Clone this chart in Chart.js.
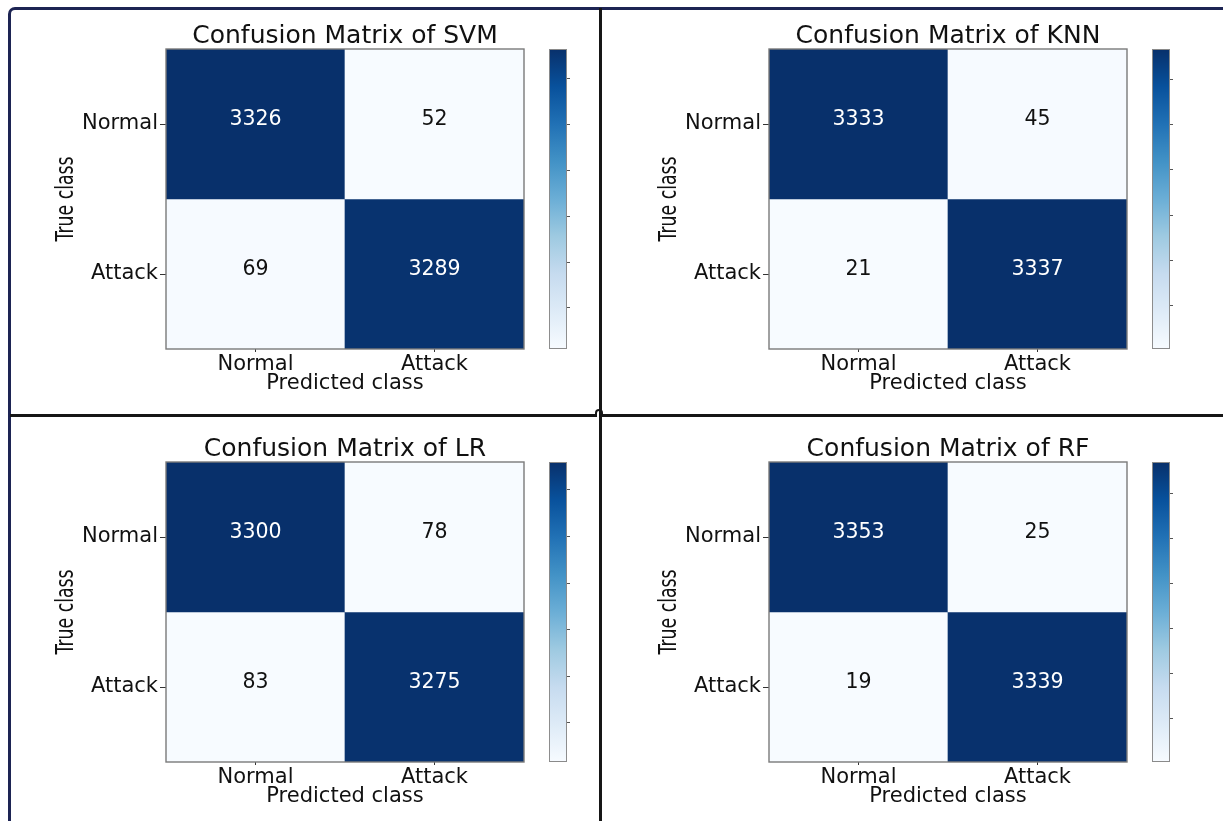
<!DOCTYPE html>
<html>
<head>
<meta charset="utf-8">
<script src="https://cdn.jsdelivr.net/npm/chart.js@4/dist/chart.umd.min.js"></script>
<style>
  html, body { margin: 0; padding: 0; background: #fff; }
  #stage { position: relative; width: 1223px; height: 821px; overflow: hidden; background: #fff; }
  #stage canvas { position: absolute; }
  .frame { position: absolute; left: 8px; top: 7px; width: 1240px; height: 840px;
           border-left: 3px solid #1d2453; border-top: 3px solid #1d2453;
           border-top-left-radius: 7px; box-sizing: border-box; }
  .vdiv { position: absolute; left: 599px; top: 8px; width: 3px; height: 820px; background: #161616; }
  .hdiv { position: absolute; left: 10px; top: 414px; width: 1220px; height: 3px; background: #161616; }
  .knot { position: absolute; left: 595px; top: 409px; width: 8px; height: 8px;
          border: 2px solid #161616; border-bottom: none; border-radius: 6px 6px 0 0; box-sizing: border-box; background: #fff; }
</style>
</head>
<body>
<div id="stage">
  <div class="frame"></div>
  <div class="hdiv"></div>
  <div class="knot"></div>
  <div class="vdiv"></div>
</div>
<script>
// Class names shared by both axes
const classLabels = ['Normal', 'Attack'];
// Model names, in panel order (top-left, top-right, bottom-left, bottom-right)
const modelNames = ['SVM', 'KNN', 'LR', 'RF'];
// Confusion matrices: rows = true class, columns = predicted class
const svmMatrix = [[3326, 52], [69, 3289]];
const knnMatrix = [[3333, 45], [21, 3337]];
const lrMatrix  = [[3300, 78], [83, 3275]];
const rfMatrix  = [[3353, 25], [19, 3339]];
// Colour bar tick values
const colorbarTicks = [500, 1000, 1500, 2000, 2500, 3000];

const matrices = [svmMatrix, knnMatrix, lrMatrix, rfMatrix];
const panelOrigins = [[0, 0], [603, 0], [0, 413], [603, 413]];

Chart.defaults.font.family = "'DejaVu Sans', sans-serif";
Chart.defaults.color = '#111';

// "Blues" sequential colour map
const BLUES = ['#f7fbff', '#deebf7', '#c6dbef', '#9ecae1', '#6baed6',
               '#4292c6', '#2171b5', '#08519c', '#08306b'];
function hexToRgb(h) {
  return [parseInt(h.slice(1, 3), 16), parseInt(h.slice(3, 5), 16), parseInt(h.slice(5, 7), 16)];
}
function blues(t) {
  t = Math.max(0, Math.min(1, t));
  const pos = t * (BLUES.length - 1);
  const i = Math.min(Math.floor(pos), BLUES.length - 2);
  const f = pos - i;
  const a = hexToRgb(BLUES[i]), b = hexToRgb(BLUES[i + 1]);
  const c = a.map((v, k) => Math.round(v + (b[k] - v) * f));
  return `rgb(${c[0]},${c[1]},${c[2]})`;
}

const stage = document.getElementById('stage');
function makeCanvas(left, top, w, h) {
  const c = document.createElement('canvas');
  c.width = w; c.height = h;
  c.style.left = left + 'px'; c.style.top = top + 'px';
  c.style.width = w + 'px'; c.style.height = h + 'px';
  stage.appendChild(c);
  return c;
}

// Writes the count in each cell and outlines the plot area
const cellTextPlugin = {
  id: 'cellText',
  afterDatasetsDraw(chart) {
    const { ctx, chartArea, scales } = chart;
    const m = chart.options.plugins.cellText.matrix;
    const vals = m.flat();
    const thresh = (Math.max(...vals) + Math.min(...vals)) / 2;
    ctx.save();
    ctx.font = "20.5px 'DejaVu Sans'";
    ctx.textAlign = 'center';
    ctx.textBaseline = 'alphabetic';
    m.forEach((row, i) => row.forEach((v, j) => {
      const x = scales.x.getPixelForValue(j);
      const y = scales.y.getPixelForValue(i + 0.5);
      ctx.fillStyle = v > thresh ? '#ffffff' : '#111111';
      ctx.fillText(String(v), x, y + 0.5);
    }));
    ctx.strokeStyle = '#7a7a7a';
    ctx.lineWidth = 1.4;
    ctx.strokeRect(chartArea.left, chartArea.top, chartArea.right - chartArea.left, chartArea.bottom - chartArea.top);
    ctx.restore();
  }
};

// Narrow rotated label for the true-class axis
const trueClassPlugin = {
  id: 'trueClass',
  afterDraw(chart) {
    const { ctx, chartArea } = chart;
    ctx.save();
    ctx.translate(61, (chartArea.top + chartArea.bottom) / 2);
    ctx.rotate(-Math.PI / 2);
    ctx.scale(0.72, 1);
    ctx.font = "24px 'DejaVu Sans'";
    ctx.fillStyle = '#111';
    ctx.textAlign = 'center';
    ctx.textBaseline = 'alphabetic';
    ctx.fillText('True class', 0, 0);
    ctx.restore();
  }
};

function drawHeatmap(idx) {
  const [ox, oy] = panelOrigins[idx];
  const matrix = matrices[idx];
  const vals = matrix.flat();
  const vmin = Math.min(...vals), vmax = Math.max(...vals);
  // Symmetric canvas so the title centres over the matrix
  const canvas = makeCanvas(ox + 12, oy + 12, 666, 398);
  const datasets = matrix.map((row, i) => ({
    label: classLabels[i],
    data: row.map(() => [i, i + 1]),
    backgroundColor: row.map(v => blues((v - vmin) / (vmax - vmin))),
    borderWidth: 0,
    barPercentage: 1,
    categoryPercentage: 1,
    grouped: false
  }));
  new Chart(canvas, {
    type: 'bar',
    data: { labels: classLabels, datasets },
    plugins: [cellTextPlugin, trueClassPlugin],
    options: {
      responsive: false,
      animation: false,
      devicePixelRatio: 1,
      events: [],
      layout: { padding: { left: 0, right: 0, top: 0, bottom: 1 } },
      plugins: {
        legend: { display: false },
        tooltip: { enabled: false },
        title: {
          display: true,
          text: 'Confusion Matrix of ' + modelNames[idx],
          color: '#111',
          font: { size: 25, weight: 'normal', lineHeight: 1 },
          padding: { top: 12, bottom: 0 }
        },
        cellText: { matrix }
      },
      scales: {
        x: {
          type: 'category',
          offset: true,
          border: { display: false },
          grid: { drawOnChartArea: false, offset: false, drawTicks: true, tickLength: 3, color: '#333', tickWidth: 1 },
          ticks: { font: { size: 21 }, color: '#111', padding: 0, maxRotation: 0 },
          title: {
            display: true, text: 'Predicted class', color: '#111',
            font: { size: 21 }, padding: { top: 0, bottom: 12.4 }
          },
          afterFit: s => { s.height = 60; }
        },
        y: {
          type: 'linear',
          min: 0, max: 2, reverse: true,
          border: { display: false },
          grid: { drawOnChartArea: false, drawTicks: true, tickLength: 6, color: '#333', tickWidth: 1 },
          afterBuildTicks: s => { s.ticks = [{ value: 0.5 }, { value: 1.5 }]; },
          ticks: {
            font: { size: 21 }, color: '#111', padding: 2,
            callback: v => classLabels[Math.floor(v)]
          },
          afterFit: s => { s.width = 154; }
        },
        // Empty spacer on the right, same width as the left axis
        ySpacer: {
          type: 'linear',
          position: 'right',
          display: true,
          grid: { display: false },
          border: { display: false },
          ticks: { display: false },
          afterFit: s => { s.width = 154; }
        }
      }
    }
  });
}

function drawColorbar(idx) {
  const [ox, oy] = panelOrigins[idx];
  const vals = matrices[idx].flat();
  const vmin = Math.min(...vals), vmax = Math.max(...vals);
  const canvas = makeCanvas(ox + 540, oy + 40, 50, 320);
  new Chart(canvas, {
    type: 'bar',
    data: {
      labels: [''],
      datasets: [{
        data: [[vmin, vmax]],
        backgroundColor: (c) => {
          const area = c.chart.chartArea;
          if (!area) return '#6baed6';
          const g = c.chart.ctx.createLinearGradient(0, area.bottom, 0, area.top);
          BLUES.forEach((col, k) => g.addColorStop(k / (BLUES.length - 1), col));
          return g;
        },
        borderColor: '#8a8a8a',
        borderWidth: 1.3,
        borderSkipped: false,
        barPercentage: 1,
        categoryPercentage: 1
      }]
    },
    options: {
      responsive: false,
      animation: false,
      devicePixelRatio: 1,
      events: [],
      layout: { padding: { left: 9, right: 0, top: 9, bottom: 11 } },
      plugins: { legend: { display: false }, tooltip: { enabled: false } },
      scales: {
        x: { display: false },
        y: {
          position: 'right',
          min: vmin, max: vmax,
          border: { display: false },
          grid: { drawOnChartArea: false, drawTicks: true, tickLength: 3, color: '#555', tickWidth: 1 },
          afterBuildTicks: s => {
            s.ticks = colorbarTicks.filter(v => v >= vmin && v <= vmax).map(v => ({ value: v }));
          },
          ticks: { display: false },
          afterFit: s => { s.width = 23; }
        }
      }
    }
  });
}

for (let k = 0; k < 4; k++) {
  drawHeatmap(k);
  drawColorbar(k);
}
</script>
</body>
</html>
